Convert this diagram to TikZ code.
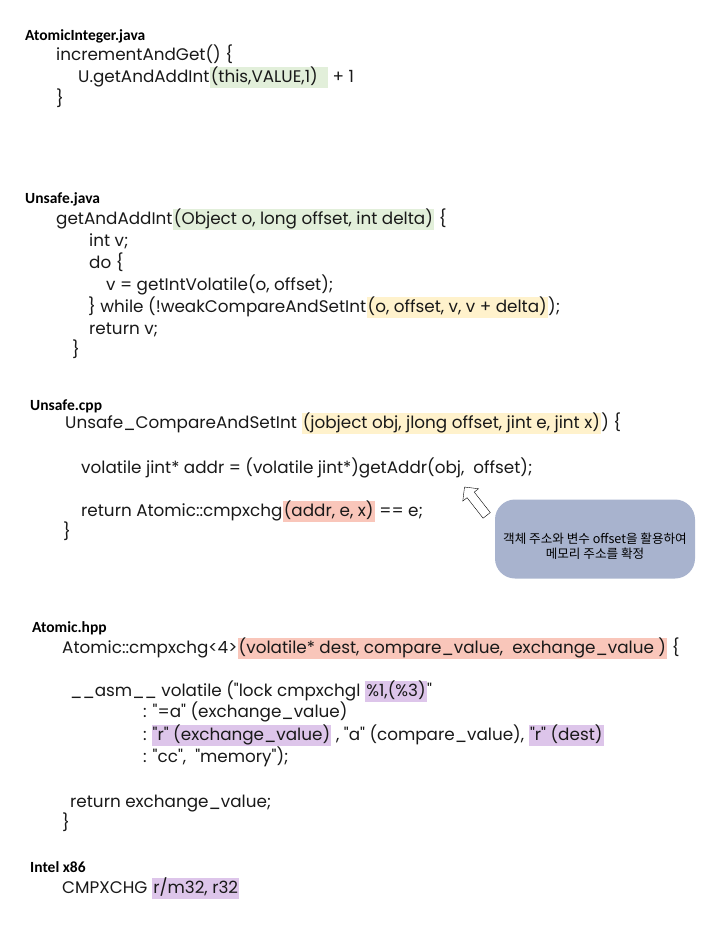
\documentclass[tikz,border=0pt]{standalone}
\usepackage{fontspec}
\usepackage{tikz}
\usetikzlibrary{positioning,shapes}
\setmainfont{Poppins}[Ligatures=TeXOff]
\newfontfamily\headfont{Carlito}
\newfontfamily\kofont{Noto Sans CJK KR}
\definecolor{hlgreen}{HTML}{E2EFDA}
\definecolor{hlyellow}{HTML}{FFF2CC}
\definecolor{hlred}{HTML}{F9C6BA}
\definecolor{hlpurple}{HTML}{DDC5EA}
\definecolor{memofill}{HTML}{A8B3CE}
\tikzstyle{head}=[inner sep=0pt,anchor=base west,font=\headfont\bfseries\fontsize{15.5}{18}\selectfont]
\tikzstyle{code}=[inner xsep=0pt,inner ysep=2pt,anchor=base west,text height=13pt,text depth=4pt,text=black!90,font=\fontsize{16.8}{20}\selectfont]
\tikzstyle{hl}=[code,inner xsep=1pt]
\tikzstyle{memo}=[rounded corners=20pt,fill=memofill,minimum width=200pt,minimum height=79pt]
\tikzstyle{memotext}=[align=center,inner sep=0pt,font=\kofont\fontsize{12.6}{15}\selectfont]
\tikzstyle{pointer}=[single arrow,draw=black,fill=white,thin,minimum height=36pt,minimum width=20pt,single arrow head extend=5pt,inner sep=4pt]

\begin{document}
\begin{tikzpicture}[x=1pt,y=-1pt]
    \useasboundingbox (0,0) rectangle (716,930);
    % file names
    \foreach \pos/\name/\file in {{(25,40)/jint/AtomicInteger.java}, {(25,203)/jun/Unsafe.java}, {(30,410)/cun/Unsafe.cpp}, {(32,632)/hat/Atomic.hpp}, {(30,872)/xin/Intel x86}}
        \node[head] (\name) at \pos {\file};
    % AtomicInteger.java
    \node[code] (inc) at (56,60) {incrementAndGet() \{};
    \node[code] (incU) at (78,82) {U.getAndAddInt};
    \node[hl,fill=hlgreen,right=0pt of incU] (incA) {(this,VALUE,1)\ \ \mbox{}};
    \node[code,right=0pt of incA] (incB) {\ + 1};
    \node[code] (incE) at (56,104) {\}};
    % Unsafe.java
    \node[code] (gaa) at (56,224) {getAndAddInt};
    \node[hl,fill=hlgreen,right=0pt of gaa] (gaaA) {(Object o, long offset, int delta)};
    \node[code,right=0pt of gaaA] (gaaB) {\ \{};
    \node[code] (iv) at (89,246) {int v;};
    \node[code] (dov) at (89,268) {do \{};
    \node[code] (gv) at (106,290) {v = getIntVolatile(o, offset);};
    \node[code] (wh) at (88,312) {\} while (!weakCompareAndSetInt};
    \node[hl,fill=hlyellow,right=0pt of wh] (whA) {(o, offset, v, v + delta)};
    \node[code,right=0pt of whA] (whB) {);};
    \node[code] (rv) at (89,334) {return v;};
    \node[code] (gaaE) at (72,355) {\}};
    % Unsafe.cpp
    \node[code] (cas) at (65,428) {Unsafe\_CompareAndSetInt\ \mbox{}};
    \node[hl,fill=hlyellow,right=0pt of cas] (casA) {(jobject obj, jlong offset, jint e, jint x)};
    \node[code,right=0pt of casA] (casB) {) \{};
    \node[code] (va) at (81,473) {volatile jint* addr = (volatile jint*)getAddr(obj,\ \ offset);};
    \node[code] (ra) at (81,516) {return Atomic::cmpxchg};
    \node[hl,fill=hlred,right=0pt of ra] (raA) {(addr, e, x)};
    \node[code,right=0pt of raA] (raB) {\ == e;};
    \node[code] (casE) at (63,537) {\}};
    \node[memo] (note) at (595,539) {};
    \node[memotext] (notetext) at ([yshift=-7pt]note.center) {객체 주소와 변수 offset을 활용하여\\메모리 주소를 확정};
    \node[pointer,rotate=128] (ptr) at (477,503) {};
    % Atomic.hpp
    \node[code] (cx) at (62,653) {Atomic::cmpxchg<4>};
    \node[hl,fill=hlred,right=0pt of cx] (cxA) {(volatile* dest, compare\_value,\ \ exchange\_value )};
    \node[code,right=0pt of cxA] (cxB) {\ \{};
    \node[code] (asm) at (70,696) {\_\_asm\_\_ volatile ("lock cmpxchgl\ \mbox{}};
    \node[hl,fill=hlpurple,right=0pt of asm] (asmA) {\%1,(\%3)};
    \node[code,right=0pt of asmA] (asmB) {"};
    \node[code] (out) at (143,717) {: "=a" (exchange\_value)};
    \node[code] (inp) at (143,740) {:\ \mbox{}};
    \node[hl,fill=hlpurple,right=0pt of inp] (inpA) {"r" (exchange\_value)};
    \node[code,right=0pt of inpA] (inpB) {\ , "a" (compare\_value),\ \mbox{}};
    \node[hl,fill=hlpurple,right=0pt of inpB] (inpC) {"r" (dest)};
    \node[code] (clb) at (143,762) {: "cc",\ \ "memory");};
    \node[code] (rx) at (70,807) {return exchange\_value;};
    \node[code] (cxE) at (62,828) {\}};
    % Intel x86
    \node[code] (cmp) at (62,893) {CMPXCHG\ \mbox{}};
    \node[hl,fill=hlpurple,right=0pt of cmp] (cmpA) {r/m32, r32};
\end{tikzpicture}
\end{document}
